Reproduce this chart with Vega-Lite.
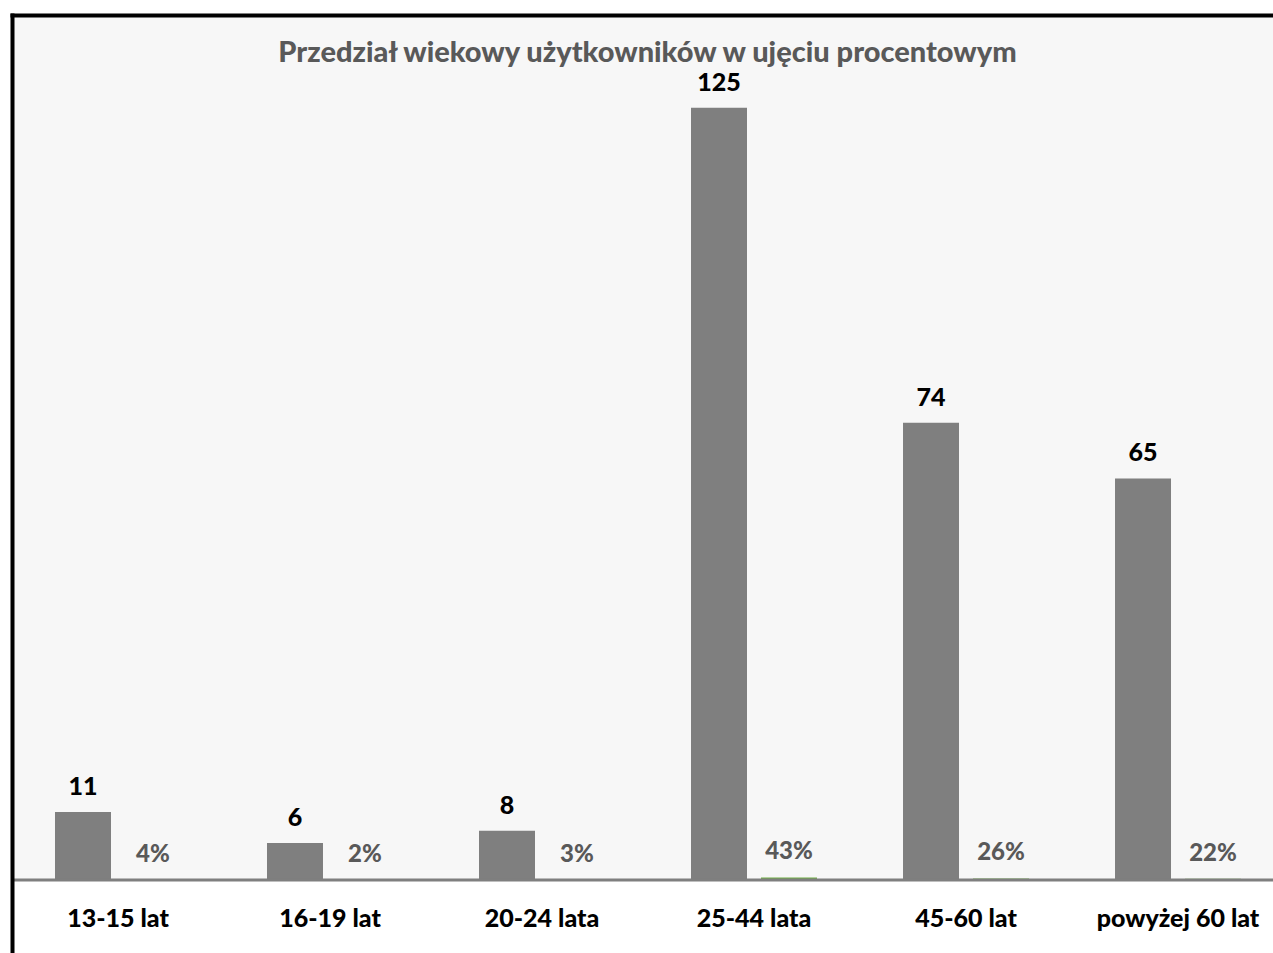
{
  "$schema": "https://vega.github.io/schema/vega-lite/v6.json",
  "width": 1261,
  "height": 938,
  "autosize": {"type": "none"},
  "padding": {"left": 12, "top": 15, "right": 0, "bottom": 0},
  "background": "#ffffff",
  "title": {
    "text": "Przedział wiekowy użytkowników w ujęciu procentowym",
    "font": "Lato",
    "fontSize": 29,
    "fontWeight": 900,
    "color": "#595959",
    "anchor": "middle",
    "baseline": "alphabetic",
    "offset": -76,
    "dx": 5
  },
  "config": {
    "view": {"stroke": null, "fill": "#ffffff"},
    "font": "Lato",
    "axis": {"grid": false, "ticks": false, "tickSize": 0},
    "axisY": {"domain": true, "domainColor": "#000000", "domainWidth": 4, "domainCap": "square", "labels": false},
    "axisTop": {"domain": true, "domainColor": "#000000", "domainWidth": 4, "domainCap": "square", "labels": false},
    "axisBottom": {"domain": false, "labelFont": "Lato", "labelFontSize": 25, "labelFontWeight": 900, "labelColor": "#000000", "labelBaseline": "middle", "labelPadding": 38, "labelAngle": 0}
  },
  "data": {
    "values": [
      {"grupa": "13-15 lat", "seria": "Liczba", "wartosc": 11, "etykieta": "11"},
      {"grupa": "13-15 lat", "seria": "Procent", "wartosc": 0.04, "etykieta": "4%"},
      {"grupa": "16-19 lat", "seria": "Liczba", "wartosc": 6, "etykieta": "6"},
      {"grupa": "16-19 lat", "seria": "Procent", "wartosc": 0.02, "etykieta": "2%"},
      {"grupa": "20-24 lata", "seria": "Liczba", "wartosc": 8, "etykieta": "8"},
      {"grupa": "20-24 lata", "seria": "Procent", "wartosc": 0.03, "etykieta": "3%"},
      {"grupa": "25-44 lata", "seria": "Liczba", "wartosc": 125, "etykieta": "125"},
      {"grupa": "25-44 lata", "seria": "Procent", "wartosc": 0.43, "etykieta": "43%"},
      {"grupa": "45-60 lat", "seria": "Liczba", "wartosc": 74, "etykieta": "74"},
      {"grupa": "45-60 lat", "seria": "Procent", "wartosc": 0.26, "etykieta": "26%"},
      {"grupa": "powyżej 60 lat", "seria": "Liczba", "wartosc": 65, "etykieta": "65"},
      {"grupa": "powyżej 60 lat", "seria": "Procent", "wartosc": 0.22, "etykieta": "22%"}
    ]
  },
  "layer": [
    {
      "data": {"values": [{}]},
      "mark": {"type": "rect", "color": "#f7f7f7"},
      "encoding": {
        "y": {"datum": 140, "type": "quantitative", "title": null, "axis": {"zindex": 2}, "scale": {"domain": [-11.8, 140], "nice": false, "zero": false}},
        "y2": {"datum": 0}
      }
    },
    {
      "mark": {"type": "bar"},
      "encoding": {
        "x": {"field": "grupa", "type": "nominal", "sort": null, "title": null,
              "scale": {"range": [0, 1272], "paddingInner": 0.4057, "paddingOuter": 0.2028},
              "axis": {"orient": "bottom", "offset": -73, "zindex": 2}},
        "xOffset": {"field": "seria", "type": "nominal", "sort": null, "scale": {"paddingInner": 0.2, "paddingOuter": 0}},
        "y": {"field": "wartosc", "type": "quantitative", "title": null, "axis": {"zindex": 2}, "scale": {"domain": [-11.8, 140], "nice": false, "zero": false}},
        "color": {"field": "seria", "type": "nominal", "legend": null, "scale": {"domain": ["Liczba", "Procent"], "range": ["#7f7f7f", "#70ad47"]}}
      }
    },
    {
      "data": {"values": [{}]},
      "mark": {"type": "rule", "color": "#7f7f7f", "strokeWidth": 3},
      "encoding": {
        "y": {"datum": 0, "type": "quantitative", "title": null, "axis": {"zindex": 2}, "scale": {"domain": [-11.8, 140], "nice": false, "zero": false}}
      }
    },
    {
      "mark": {"type": "text", "fontWeight": 900, "baseline": "middle", "dy": -25},
      "encoding": {
        "x": {"field": "grupa", "type": "nominal", "sort": null, "title": null,
              "scale": {"range": [0, 1272], "paddingInner": 0.4057, "paddingOuter": 0.2028},
              "axis": {"orient": "top", "zindex": 2}},
        "xOffset": {"field": "seria", "type": "nominal", "sort": null, "scale": {"paddingInner": 0.2, "paddingOuter": 0}},
        "y": {"field": "wartosc", "type": "quantitative", "title": null, "axis": {"zindex": 2}, "scale": {"domain": [-11.8, 140], "nice": false, "zero": false}},
        "text": {"field": "etykieta"},
        "color": {"condition": {"test": "datum.seria === 'Procent'", "value": "#595959"}, "value": "#000000"},
        "size": {"condition": {"test": "datum.seria === 'Procent'", "value": 24}, "value": 25}
      }
    }
  ],
  "resolve": {"axis": {"x": "independent"}}
}
